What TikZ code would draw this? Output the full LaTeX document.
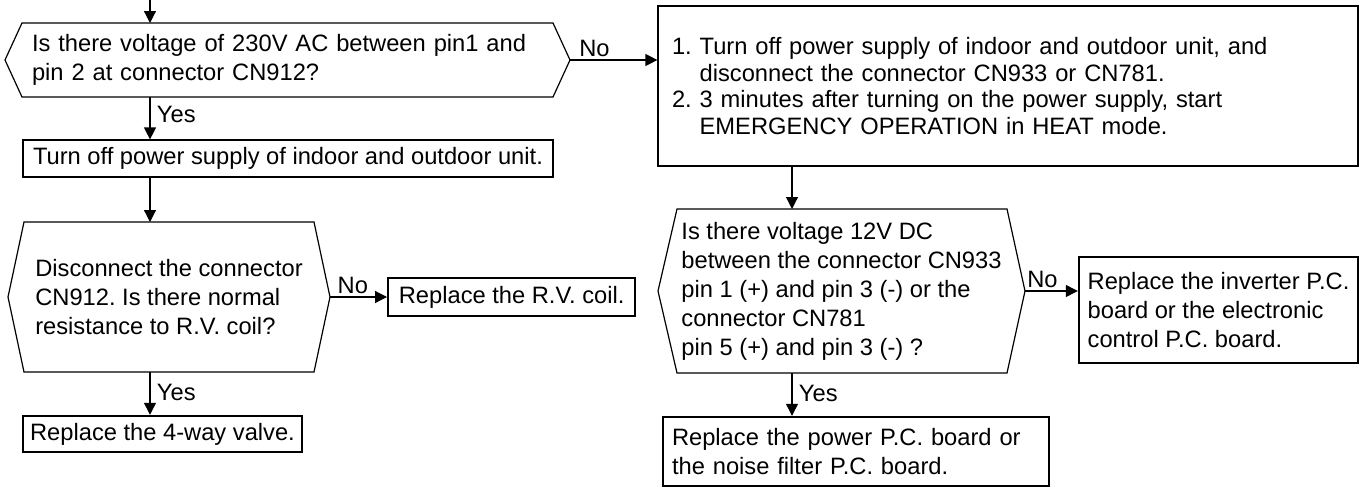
\documentclass[tikz,border=0pt]{standalone}
\usepackage{fontspec}
\setmainfont{Liberation Sans}
\usetikzlibrary{arrows.meta, positioning}
\tikzstyle{hexa}    = [rectangle, outer sep=0pt, inner sep=0pt, align=left]
\tikzstyle{stepbox} = [rectangle, draw=black, line width=1.2pt, inner sep=0pt, align=left]
\tikzstyle{endbox}  = [rectangle, draw=black, line width=2.4pt, inner sep=0pt, align=left]
\tikzstyle{hexline} = [line width=1.2pt, line join=miter]
\tikzstyle{arrow}   = [line width=1.2pt, -{Triangle[length=12pt, width=12pt]}]
\tikzstyle{answer}  = [inner sep=3pt]
\tikzstyle{yesnote} = [right, xshift=3pt]

\begin{document}
\begin{tikzpicture}[x=1pt, y=-1pt, font=\fontsize{23.7}{29}\selectfont\frenchspacing]
    \useasboundingbox (0,0) rectangle (1362,488);
    \coordinate (lspine) at (150,0);
    \coordinate (rspine) at (792,0);
    % left column
    \node (ask230)  [hexa, minimum width=565pt, minimum height=74pt, text width=511pt, inner xsep=27pt] at (287.5,60)
        {Is there voltage of 230V AC between pin1 and\\pin 2 at connector CN912?};
    \node (powoff)  [stepbox, minimum width=530pt, minimum height=37pt] at (288,158.5)
        {Turn off power supply of indoor and outdoor unit.};
    \node (askcoil) [hexa, minimum width=322pt, minimum height=150pt] at (169,297)
        {Disconnect the connector\\CN912. Is there normal\\resistance to R.V. coil?};
    \node (rvcoil)  [endbox, minimum width=247pt, minimum height=38pt, right=57pt of askcoil]
        {Replace the R.V. coil.};
    \node (valve)   [endbox, minimum width=279pt, minimum height=36pt] at (162.5,434)
        {Replace the 4-way valve.};
    % right column
    \node (restart) [stepbox, minimum width=700pt, minimum height=160pt, text width=672pt, inner xsep=14pt,
        font=\fontsize{23.7}{26.5}\selectfont\frenchspacing] at (1008,86)
        {1. Turn off power supply of indoor and outdoor unit, and\\
         \phantom{1.} disconnect the connector CN933 or CN781.\\
         2. 3 minutes after turning on the power supply, start\\
         \phantom{2.} EMERGENCY OPERATION in HEAT mode.};
    \node (ask12v)  [hexa, minimum width=367pt, minimum height=164pt] at (841.5,291)
        {Is there voltage 12V DC\\between the connector CN933\\pin 1 (+) and pin 3 (-) or the\\connector CN781\\pin 5 (+) and pin 3 (-) ?};
    \node (inverter) [endbox, minimum width=279pt, minimum height=106pt] at (1218.5,310)
        {Replace the inverter P.C.\\board or the electronic\\control P.C. board.};
    \node (powerpcb) [endbox, minimum width=386pt, minimum height=69pt, text width=368pt, inner xsep=9pt] at (856,451.5)
        {Replace the power P.C. board or\\the noise filter P.C. board.};
    % hexagon outlines
    \draw [hexline] (ask230.west) -- ([xshift=17pt]ask230.north west) -- ([xshift=-17pt]ask230.north east)
        -- (ask230.east) -- ([xshift=-17pt]ask230.south east) -- ([xshift=17pt]ask230.south west) -- cycle;
    \draw [hexline] (askcoil.west) -- ([xshift=16pt]askcoil.north west) -- ([xshift=-16pt]askcoil.north east)
        -- (askcoil.east) -- ([xshift=-16pt]askcoil.south east) -- ([xshift=16pt]askcoil.south west) -- cycle;
    \draw [hexline] (ask12v.west) -- ([xshift=19pt]ask12v.north west) -- ([xshift=-18pt]ask12v.north east)
        -- (ask12v.east) -- ([xshift=-18pt]ask12v.south east) -- ([xshift=19pt]ask12v.south west) -- cycle;
    % connectors
    \draw [arrow] (lspine) -- (lspine |- ask230.north);
    \draw [arrow] (lspine |- ask230.south) -- node (yes1) [yesnote, pos=0.42] {Yes} (lspine |- powoff.north);
    \draw [arrow] (lspine |- powoff.south) -- (lspine |- askcoil.north);
    \draw [arrow] (lspine |- askcoil.south) -- node (yes2) [yesnote, pos=0.48] {Yes} (lspine |- valve.north);
    \draw [arrow] (askcoil.east) -- node (no2) [above, pos=0.4, answer] {No} (rvcoil.west);
    \draw [arrow] (ask230.east) -- node (no1) [above, pos=0.28, answer] {No} (ask230.east -| restart.west);
    \draw [arrow] (rspine |- restart.south) -- (rspine |- ask12v.north);
    \draw [arrow] (ask12v.east) -- node (no3) [above, pos=0.33, answer] {No} (ask12v.east -| inverter.west);
    \draw [arrow] (rspine |- ask12v.south) -- node (yes3) [yesnote, pos=0.48] {Yes} (rspine |- powerpcb.north);
\end{tikzpicture}
\end{document}
